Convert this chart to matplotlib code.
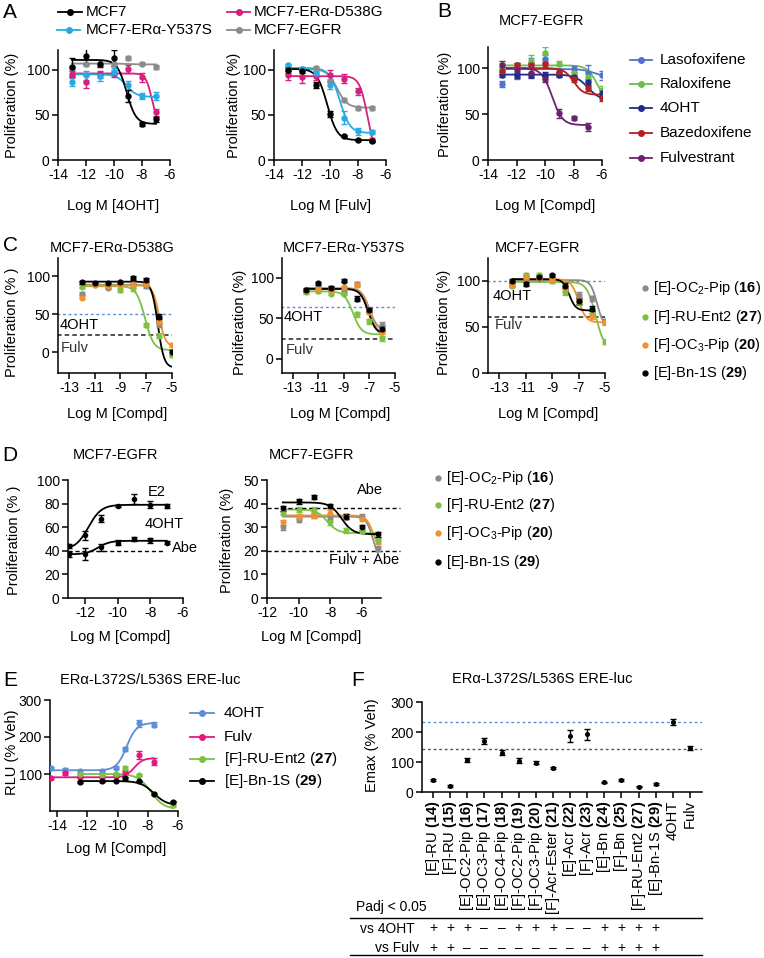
import numpy as np
import matplotlib
matplotlib.use("Agg")
import matplotlib.pyplot as plt
from matplotlib.transforms import blended_transform_factory

plt.rcParams["font.family"] = ["Liberation Sans", "DejaVu Sans"]
plt.rcParams["mathtext.fontset"] = "custom"
plt.rcParams["mathtext.rm"] = "Liberation Sans"
plt.rcParams["mathtext.bf"] = "Liberation Sans:bold"
plt.rcParams["mathtext.it"] = "Liberation Sans:italic"
plt.rcParams["axes.unicode_minus"] = False

W, H = 764, 958

# colours
C_MCF7 = "black"
C_D538G = "#d61f7f"
C_Y537S = "#29abe2"
C_EGFR = "#8c8c8c"
C_LASO = "#4f74cf"
C_RALOX = "#6cbf4a"
C_OHT = "#1f2d8a"
C_BAZ = "#b41f24"
C_FULVB = "#6b2170"
C_16 = "#8a8a8a"
C_27 = "#7cc142"
C_20 = "#f0922d"
C_29 = "black"
C_OHTE = "#5b8fd8"
C_FULVE = "#e5177f"

# ---------------- data ----------------
# fits are (top, bottom, logIC50, hill); negative hill = rising curve
# panel A, left: Log M [4OHT]
a_x = [-13, -12, -11, -10, -9, -8, -7]
a1_mcf7 = [103, 115, 107, 113, 71, 40, 45]
a1_mcf7_err = [10, 9, 4, 9, 7, 2, 3]
a1_mcf7_fit = (111, 40, -9.1, 1.3)
a1_y537s = [87, 94, 93, 98, 83, 71, 71]
a1_y537s_err = [5, 5, 5, 4, 5, 3, 4]
a1_y537s_fit = (95, 70, -9.1, 1.2)
a1_d538g = [95, 87, 95, 96, 101, 92, 53]
a1_d538g_err = [4, 7, 4, 4, 4, 5, 4]
a1_d538g_fit = (96, 40, -7.3, 2.0)
a1_egfr = [102, 106, 106, 106, 113, 107, 103]
a1_egfr_err = [2, 2, 2, 2, 2, 2, 2]
a1_egfr_fit = (107, 106, -9.0, 1.0)

# panel A, right: Log M [Fulv]
a2_mcf7 = [100, 99, 83, 51, 27, 22, 21]
a2_mcf7_err = [3, 3, 3, 3, 1, 1, 1]
a2_mcf7_fit = (101, 22, -10.2, 1.2)
a2_y537s = [105, 101, 96, 83, 47, 32, 31]
a2_y537s_err = [2, 2, 3, 4, 7, 4, 2]
a2_y537s_fit = (102, 30, -9.3, 1.2)
a2_d538g = [94, 92, 93, 94, 90, 76, 22]
a2_d538g_err = [5, 7, 4, 6, 5, 4, 2]
a2_d538g_fit = (93, 0, -7.3, 1.5)
a2_egfr = [101, 101, 102, 88, 67, 58, 58]
a2_egfr_err = [2, 2, 2, 2, 2, 2, 2]
a2_egfr_fit = (101, 58, -9.5, 1.2)

# panel B: MCF7-EGFR
b_x = [-13, -12, -11, -10, -9, -8, -7, -6]
b_laso = [83, 95, 106, 110, 95, 99, 95, 92]
b_laso_err = [3, 7, 5, 4, 4, 3, 8, 5]
b_laso_fit = (99, 90, -6.5, 1.0)
b_ralox = [100, 103, 108, 116, 105, 95, 90, 76]
b_ralox_err = [6, 3, 6, 7, 3, 4, 7, 5]
b_ralox_fit = (103, 60, -6.3, 1.2)
b_oht = [93, 92, 92, 93, 93, 90, 85, 73]
b_oht_err = [3, 3, 3, 3, 3, 3, 3, 3]
b_oht_fit = (93, 65, -7.0, 1.0)
b_baz = [97, 103, 103, 104, 96, 88, 78, 68]
b_baz_err = [3, 3, 3, 3, 3, 3, 3, 4]
b_baz_fit = (100, 71, -8.0, 1.3)
b_fulv_x = [-13, -12, -11, -10, -9, -8, -7]
b_fulv = [103, 98, 95, 88, 51, 46, 36]
b_fulv_err = [5, 8, 5, 3, 5, 2, 4]
b_fulv_fit = (100, 38, -9.5, 1.2)

# panel C
c_x = [-12, -11, -10, -9, -8, -7, -6, -5]
c1_16 = [77, 90, 85, 92, 90, 87, 37]
c1_16_fit = (89, -100, -5.72, 1.5)
c1_27 = [86, 89, 88, 82, 84, 36, 22, -3]
c1_27_fit = (87, 3, -7.1, 1.3)
c1_20 = [72, 89, 87, 89, 88, 90, 40, 10]
c1_20_fit = (88, 8, -6.0, 1.8)
c1_29 = [92, 91, 91, 92, 98, 95, 47, 0]
c1_29_fit = (93, -20, -6.1, 1.8)
c1_lines = (50, 23)  # 4OHT, Fulv reference levels

c2_16 = [84, 87, 86, 84, 92, 60, 42]
c2_16_fit = (87, 35, -7.0, 1.4)
c2_27 = [82, 83, 80, 80, 55, 46, 25]
c2_27_fit = (83, 30, -8.3, 1.3)
c2_20 = [83, 86, 85, 88, 91, 58, 33]
c2_20_fit = (86, 30, -7.0, 1.4)
c2_29 = [85, 93, 87, 96, 74, 60, 37]
c2_29_fit = (86, 30, -7.1, 1.4)
c2_lines = (64, 24)

c3_16 = [97, 105, 102, 102, 95, 85, 81, 56]
c3_16_fit = (101, 50, -5.6, 1.8)
c3_27 = [95, 107, 107, 100, 88, 77, 64, 34]
c3_27_fit = (99, 25, -5.7, 1.3)
c3_20 = [96, 104, 103, 101, 92, 79, 62, 55]
c3_20_fit = (102, 55, -7.0, 1.5)
c3_29 = [100, 97, 104, 106, 95, 78, 70]
c3_29_fit = (102, 68, -7.7, 1.8)
c3_lines = (100, 61)

# panel D
d1_x = [-13, -12, -11, -10, -9, -8, -7]
d1_e2 = [44, 53, 67, 78, 84, 79, 78]
d1_e2_err = [2, 4, 3, 1, 4, 3, 2]
d1_e2_fit = (79, 41, -11.8, -1.1)
d1_oht = [37, 37, 43, 47, 50, 49, 47]
d1_oht_err = [2, 5, 3, 2, 2, 2, 1]
d1_oht_fit = (48.5, 37, -11.2, -1.2)
d1_abe = 40

d2_x = [-11, -10, -9, -8, -7, -6, -5]
d2_16 = [30, 33, 35, 34.4, 34.4, 34.4, 21]
d2_16_fit = (34.5, 15, -5.3, 2.0)
d2_27 = [36, 37.5, 37.5, 32, 28.7, 28.5, 24.5]
d2_27_fit = (37.5, 27.5, -8.2, 1.3)
d2_20 = [32, 34.4, 35, 36.2, 34.4, 33.6, 24]
d2_20_fit = (35, 20, -5.3, 2.0)
d2_29 = [38, 41, 42.8, 39, 34.4, 30, 27]
d2_29_fit = (40.5, 27, -7.3, 1.2)
d2_abe = 38
d2_fulv_abe = 20

# panel E
e_x = [-14.4, -13.5, -12.5, -11.0, -10.1, -9.5, -8.6, -7.6]
e_oht = [115, 110, 107, 108, 117, 168, 237, 233]
e_oht_err = [5, 5, 4, 4, 4, 6, 10, 7]
e_oht_fit = (238, 110, -9.4, -1.3)
e_fulv = [90, 102, 91, 92, 95, 106, 151, 133]
e_fulv_err = [3, 4, 3, 3, 3, 5, 10, 10]
e_fulv_fit = (143, 91, -8.9, -1.5)
e_x2 = [-12.5, -11.0, -10.1, -9.5, -8.6, -7.6, -6.3]
e_27 = [100, 98, 100, 116, 97, 45, 15]
e_27_err = [3, 3, 3, 5, 3, 3, 3]
e_27_fit = (100, 5, -7.8, 1.0)
e_29 = [78, 80, 82, 88, 80, 45, 25]
e_29_err = [2, 2, 2, 3, 2, 3, 2]
e_29_fit = (81, 15, -7.6, 1.0)

# panel F
f_labels = [r"[E]-RU $\mathbf{(14)}$", r"[F]-RU $\mathbf{(15)}$",
            r"[E]-OC2-Pip $\mathbf{(16)}$", r"[E]-OC3-Pip $\mathbf{(17)}$",
            r"[E]-OC4-Pip $\mathbf{(18)}$", r"[F]-OC2-Pip $\mathbf{(19)}$",
            r"[F]-OC3-Pip $\mathbf{(20)}$", r"[F]-Acr-Ester $\mathbf{(21)}$",
            r"[E]-Acr $\mathbf{(22)}$", r"[F]-Acr $\mathbf{(23)}$",
            r"[E]-Bn $\mathbf{(24)}$", r"[F]-Bn $\mathbf{(25)}$",
            r"[F]-RU-Ent2 $\mathbf{(27)}$", r"[E]-Bn-1S $\mathbf{(29)}$",
            "4OHT", "Fulv"]
f_emax = [40, 20, 107, 170, 131, 104, 98, 79, 187, 192, 32, 39, 18, 28, 234, 146]
f_err = [3, 2, 7, 11, 9, 8, 5, 3, 20, 17, 3, 3, 2, 3, 10, 6]
f_ref_oht = 233
f_ref_fulv = 144
vs_4oht = ["+", "+", "+", "-", "-", "+", "+", "+", "-", "-", "+", "+", "+", "+"]
vs_fulv = ["+", "+", "-", "-", "-", "-", "-", "-", "-", "-", "+", "+", "+", "+"]


# ---------------- helpers ----------------
def logistic(x, top, bottom, logc, hill):
    return bottom + (top - bottom) / (1 + 10 ** ((x - logc) * hill))


fig = plt.figure(figsize=(W / 100, H / 100), dpi=100)


def px_axes(x0, y0, x1, y1):
    ax = fig.add_axes([x0 / W, 1 - y1 / H, (x1 - x0) / W, (y1 - y0) / H])
    for s in ["top", "right"]:
        ax.spines[s].set_visible(False)
    for s in ["left", "bottom"]:
        ax.spines[s].set_linewidth(1.1)
    ax.tick_params(direction="out", length=4, width=1.1, labelsize=10, pad=2)
    ax.patch.set_alpha(0)
    return ax


def series(ax, x, y, fit, color, err=None, ms=3.6):
    n = len(y)
    x = np.array(x[:n], float)
    ax.errorbar(x, y, yerr=err, fmt="o", color=color, ms=ms, capsize=2.2,
                elinewidth=1, capthick=1, zorder=3)
    xs = np.linspace(x.min(), x.max(), 300)
    ax.plot(xs, logistic(xs, *fit), color=color, lw=1.3, zorder=2)


ov = fig.add_axes([0, 0, 1, 1])
ov.set_xlim(0, W)
ov.set_ylim(H, 0)
ov.axis("off")
ov.patch.set_alpha(0)


def t(x, y, s, size=10.5, **kw):
    kw.setdefault("ha", "center")
    kw.setdefault("va", "center")
    ov.text(x, y, s, fontsize=size, **kw)


def leg_line(x0, x1, y, color, label, tx):
    ov.plot([x0, x1], [y, y], color=color, lw=1.3)
    ov.plot([(x0 + x1) / 2], [y], "o", color=color, ms=4)
    t(tx, y, label, size=11, ha="left")


def leg_dot(x, y, color, label):
    ov.plot([x], [y], "o", color=color, ms=3.5)
    t(x + 8, y, label, size=10.5, ha="left")


# panel letters
for lx, ly, L in [(10, 12, "A"), (444, 11, "B"), (10, 245, "C"), (10, 455, "D"),
                  (10, 680, "E"), (358, 680, "F")]:
    t(lx, ly, L, size=15)

# ---------------- panel A ----------------
axA1 = px_axes(58, 50, 170, 160)
series(axA1, a_x, a1_egfr, a1_egfr_fit, C_EGFR, a1_egfr_err)
series(axA1, a_x, a1_d538g, a1_d538g_fit, C_D538G, a1_d538g_err)
series(axA1, a_x, a1_y537s, a1_y537s_fit, C_Y537S, a1_y537s_err)
series(axA1, a_x, a1_mcf7, a1_mcf7_fit, C_MCF7, a1_mcf7_err)
axA2 = px_axes(274, 50, 386, 160)
series(axA2, a_x, a2_egfr, a2_egfr_fit, C_EGFR, a2_egfr_err)
series(axA2, a_x, a2_d538g, a2_d538g_fit, C_D538G, a2_d538g_err)
series(axA2, a_x, a2_y537s, a2_y537s_fit, C_Y537S, a2_y537s_err)
series(axA2, a_x, a2_mcf7, a2_mcf7_fit, C_MCF7, a2_mcf7_err)
for ax in (axA1, axA2):
    ax.set_xlim(-14, -6)
    ax.set_ylim(0, 122)
    ax.set_xticks([-14, -12, -10, -8, -6])
    ax.set_yticks([0, 50, 100])
t(113, 206, "Log M [4OHT]")
t(331, 206, "Log M [Fulv]")
t(12, 105, "Proliferation (%)", rotation=90)
t(234, 105, "Proliferation (%)", rotation=90)
leg_line(58, 82, 12, C_MCF7, "MCF7", 86)
leg_line(227, 250, 12, C_D538G, "MCF7-ERα-D538G", 254)
leg_line(57, 80, 30, C_Y537S, "MCF7-ERα-Y537S", 86)
leg_line(227, 250, 30, C_EGFR, "MCF7-EGFR", 254)

# ---------------- panel B ----------------
axB = px_axes(488, 47, 602, 160)
series(axB, b_x, b_laso, b_laso_fit, C_LASO, b_laso_err)
series(axB, b_x, b_ralox, b_ralox_fit, C_RALOX, b_ralox_err)
series(axB, b_x, b_oht, b_oht_fit, C_OHT, b_oht_err)
series(axB, b_x, b_baz, b_baz_fit, C_BAZ, b_baz_err)
series(axB, b_fulv_x, b_fulv, b_fulv_fit, C_FULVB, b_fulv_err)
axB.set_xlim(-14, -6)
axB.set_ylim(0, 123)
axB.set_xticks([-14, -12, -10, -8, -6])
axB.set_yticks([0, 50, 100])
t(542, 21, "MCF7-EGFR")
t(545, 206, "Log M [Compd]")
t(445, 104, "Proliferation (%)", rotation=90)
for yy, col, lab in [(60, C_LASO, "Lasofoxifene"), (84, C_RALOX, "Raloxifene"),
                     (108, C_OHT, "4OHT"), (133, C_BAZ, "Bazedoxifene"),
                     (158, C_FULVB, "Fulvestrant")]:
    leg_line(630, 652, yy, col, lab, 660)

# ---------------- panel C ----------------
c_err = [2, 2, 2, 2, 3, 3, 3, 3]
c_panels = [
    (58, 172, -27, 124, (c1_16, c1_16_fit), (c1_27, c1_27_fit), (c1_20, c1_20_fit),
     (c1_29, c1_29_fit), c1_lines, "MCF7-ERα-D538G", 112, 12, "Proliferation (% )",
     (60, 325), (61, 348)),
    (282, 395, -17.5, 124, (c2_16, c2_16_fit), (c2_27, c2_27_fit), (c2_20, c2_20_fit),
     (c2_29, c2_29_fit), c2_lines, "MCF7-ERα-Y537S", 344, 240, "Proliferation (%)",
     (284, 317), (286, 350)),
    (488, 605, 0, 125, (c3_16, c3_16_fit), (c3_27, c3_27_fit), (c3_20, c3_20_fit),
     (c3_29, c3_29_fit), c3_lines, "MCF7-EGFR", 537, 444, "Proliferation (%)",
     (493, 296), (495, 325)),
]
for (x0, x1, ylo, yhi, s16, s27, s20, s29, lines, title, tx, lx, ylab,
     p4, pf) in c_panels:
    ax = px_axes(x0, 258, x1, 373)
    for (vals, fit), col in [(s16, C_16), (s27, C_27), (s20, C_20), (s29, C_29)]:
        series(ax, c_x, vals, fit, col, c_err[:len(vals)], ms=3.4)
    ax.plot([-13.9, -5], [lines[0]] * 2, color=C_OHTE, lw=1, ls=(0, (2, 2)), zorder=1)
    ax.plot([-13.9, -5], [lines[1]] * 2, color="#222222", lw=1.1, ls=(0, (3, 2)), zorder=1)
    ax.set_xlim(-13.85, -5)
    ax.set_ylim(ylo, yhi)
    ax.set_xticks([-13, -11, -9, -7, -5])
    ax.set_yticks([0, 50, 100])
    t(tx, 248, title)
    t((x0 + x1) / 2 + 2, 414, "Log M [Compd]")
    t(lx, 322, ylab, rotation=90)
    t(p4[0], p4[1], "4OHT", ha="left")
    t(pf[0], pf[1], "Fulv", ha="left", color="#333333")

cd_labels = [r"[E]-OC$_2$-Pip ($\mathbf{16}$)", r"[F]-RU-Ent2 ($\mathbf{27}$)",
             r"[F]-OC$_3$-Pip ($\mathbf{20}$)", r"[E]-Bn-1S ($\mathbf{29}$)"]
cd_colors = [C_16, C_27, C_20, C_29]
for yy, col, lab in zip([288, 317, 345, 373], cd_colors, cd_labels):
    leg_dot(645, yy, col, lab)

# ---------------- panel D ----------------
axD1 = px_axes(68, 480, 183, 598)
series(axD1, d1_x, d1_e2, d1_e2_fit, "black", d1_e2_err, ms=3)
series(axD1, d1_x, d1_oht, d1_oht_fit, "black", d1_oht_err, ms=3)
axD1.plot([-13.05, -7.1], [d1_abe] * 2, color="black", lw=1, ls=(0, (3, 2)))
axD1.set_xlim(-13.05, -6)
axD1.set_ylim(0, 100)
axD1.set_xticks([-12, -10, -8, -6])
axD1.set_yticks([0, 20, 40, 60, 80, 100])
t(116, 455, "MCF7-EGFR")
t(120, 637, "Log M [Compd]")
t(14, 540, "Proliferation (% )", rotation=90)
t(148, 492, "E2", ha="left")
t(145, 524, "4OHT", ha="left")
t(172, 548, "Abe", ha="left")

axD2 = px_axes(267, 480, 381, 598)
for vals, fit, col in [(d2_16, d2_16_fit, C_16), (d2_20, d2_20_fit, C_20),
                       (d2_27, d2_27_fit, C_27), (d2_29, d2_29_fit, C_29)]:
    series(axD2, d2_x, vals, fit, col, [1] * len(vals), ms=3.2)
axD2.set_xlim(-12, -4.8)
axD2.set_ylim(0, 50)
axD2.plot([-12, -3.6], [d2_abe] * 2, color="black", lw=1, ls=(0, (3, 2)), clip_on=False)
axD2.plot([-12, -3.6], [d2_fulv_abe] * 2, color="black", lw=1, ls=(0, (3, 2)), clip_on=False)
axD2.set_xticks([-12, -10, -8, -6])
axD2.set_yticks([0, 10, 20, 30, 40, 50])
t(312, 455, "MCF7-EGFR")
t(311, 637, "Log M [Compd]")
t(227, 540, "Proliferation (%)", rotation=90)
t(357, 490, "Abe", ha="left")
t(329, 560, "Fulv + Abe", ha="left")
for yy, col, lab in zip([478, 505, 533, 562], cd_colors, cd_labels):
    leg_dot(438, yy, col, lab)

# ---------------- panel E ----------------
axE = px_axes(50, 700, 178, 811)
series(axE, e_x, e_oht, e_oht_fit, C_OHTE, e_oht_err, ms=3.4)
series(axE, e_x, e_fulv, e_fulv_fit, C_FULVE, e_fulv_err, ms=3.4)
series(axE, e_x2, e_27, e_27_fit, C_27, e_27_err, ms=3.4)
series(axE, e_x2, e_29, e_29_fit, C_29, e_29_err, ms=3.4)
axE.set_xlim(-14.47, -6)
axE.set_ylim(0, 300)
axE.set_xticks([-14, -12, -10, -8, -6])
axE.set_yticks([100, 200, 300])
t(150, 680, "ERα-L372S/L536S ERE-luc")
t(116, 849, "Log M [Compd]")
t(12, 752, "RLU (% Veh)", rotation=90)
for yy, col, lab in [(713, C_OHTE, "4OHT"), (737, C_FULVE, "Fulv"),
                     (759, C_27, r"[F]-RU-Ent2 ($\mathbf{27}$)"),
                     (781, C_29, r"[E]-Bn-1S ($\mathbf{29}$)")]:
    leg_line(190, 214, yy, col, lab, 224)

# ---------------- panel F ----------------
axF = px_axes(422, 702, 702, 792)
fx = np.arange(len(f_emax))
axF.errorbar(fx, f_emax, yerr=f_err, fmt="o", color="black", ms=2.6, capsize=2.5,
             elinewidth=1, capthick=1)
axF.axhline(f_ref_oht, color=C_OHTE, lw=1, ls=(0, (2, 2)), zorder=1)
axF.axhline(f_ref_fulv, color="#555555", lw=1, ls=(0, (2, 2)), zorder=1)
axF.set_xlim(-0.64, 15.7)
axF.set_ylim(0, 300)
axF.set_yticks([0, 100, 200, 300])
axF.set_xticks(fx)
axF.set_xticklabels(f_labels, rotation=90, fontsize=10.6)
t(542, 679, "ERα-L372S/L536S ERE-luc")
t(372, 745, "Emax (% Veh)", rotation=90)

tr = blended_transform_factory(axF.transData, ov.transData)
for i, (p, q) in enumerate(zip(vs_4oht, vs_fulv)):
    ov.text(i, 928, p if p == "+" else "–", transform=tr, ha="center", va="center", fontsize=10)
    ov.text(i, 948, q if q == "+" else "–", transform=tr, ha="center", va="center", fontsize=10)
t(427, 907, "Padj < 0.05", size=10, ha="right")
t(415, 929, "vs 4OHT", size=10, ha="right")
t(419, 948, "vs Fulv", size=10, ha="right")
ov.plot([350, 702], [918, 918], color="black", lw=1)
ov.plot([350, 702], [955, 955], color="black", lw=1)

fig.savefig("out.png", dpi=100)
